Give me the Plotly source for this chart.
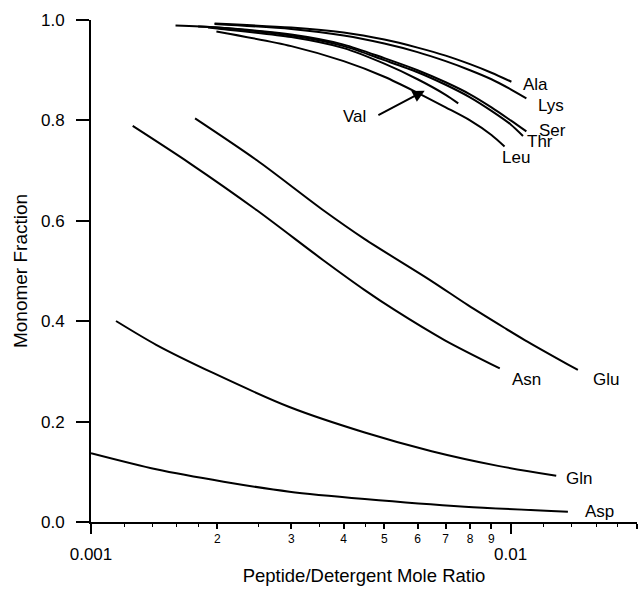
import numpy as np
import plotly.graph_objects as go

# Monomer fraction vs peptide/detergent mole ratio, one curve per residue
ala_x = [0.00197, 0.003, 0.004, 0.005, 0.006, 0.007, 0.008, 0.009, 0.01004]
ala_y = [0.993, 0.985, 0.975, 0.961, 0.945, 0.929, 0.912, 0.895, 0.877]

lys_x = [0.00197, 0.003, 0.004, 0.005, 0.006, 0.007, 0.008, 0.009, 0.010, 0.0109]
lys_y = [0.992, 0.982, 0.969, 0.953, 0.936, 0.918, 0.900, 0.882, 0.862, 0.844]

ser_x = [0.00159, 0.002, 0.003, 0.004, 0.005, 0.006, 0.007, 0.008, 0.009, 0.010, 0.0109]
ser_y = [0.989, 0.985, 0.971, 0.951, 0.924, 0.900, 0.876, 0.852, 0.826, 0.800, 0.778]

thr_x = [0.0018, 0.002, 0.003, 0.004, 0.005, 0.006, 0.007, 0.008, 0.009, 0.010, 0.0107]
thr_y = [0.987, 0.985, 0.969, 0.948, 0.920, 0.896, 0.871, 0.846, 0.819, 0.792, 0.769]

val_x = [0.0019, 0.002, 0.003, 0.004, 0.005, 0.006, 0.007, 0.0075]
val_y = [0.985, 0.983, 0.966, 0.944, 0.913, 0.882, 0.851, 0.834]

leu_x = [0.00199, 0.003, 0.004, 0.005, 0.006, 0.007, 0.008, 0.009, 0.00967]
leu_y = [0.977, 0.948, 0.918, 0.887, 0.855, 0.826, 0.800, 0.771, 0.748]

asn_x = [0.001257, 0.00172, 0.00248, 0.00357, 0.00449, 0.0053, 0.00697, 0.00942]
asn_y = [0.789, 0.7145, 0.6215, 0.522, 0.462, 0.422, 0.362, 0.306]

glu_x = [0.00177, 0.00248, 0.00357, 0.00449, 0.00648, 0.00791, 0.00968, 0.0108, 0.01446]
glu_y = [0.804, 0.721, 0.6215, 0.5635, 0.480, 0.432, 0.3865, 0.3625, 0.3028]

gln_x = [0.001147, 0.00143, 0.00196, 0.00297, 0.00449, 0.00648, 0.00933, 0.01284]
gln_y = [0.4004, 0.353, 0.2964, 0.2291, 0.1783, 0.141, 0.1118, 0.092]

asp_x = [0.001, 0.00143, 0.00207, 0.00297, 0.00449, 0.00777, 0.01369]
asp_y = [0.137, 0.105, 0.0803, 0.0604, 0.0458, 0.0305, 0.0205]

curve_names = ["Ala", "Lys", "Ser", "Thr", "Val", "Leu", "Asn", "Glu", "Gln", "Asp"]
curve_x = [ala_x, lys_x, ser_x, thr_x, val_x, leu_x, asn_x, glu_x, gln_x, asp_x]
curve_y = [ala_y, lys_y, ser_y, thr_y, val_y, leu_y, asn_y, glu_y, gln_y, asp_y]

# Axis ticks
decade_vals = [0.001, 0.01]
decade_text = ["0.001", "0.01"]
digit_vals = [0.002, 0.003, 0.004, 0.005, 0.006, 0.007, 0.008, 0.009, 0.02]
digit_text = ["2", "3", "4", "5", "6", "7", "8", "9", "2"]
minor_vals = [0.0012, 0.0014, 0.0016, 0.0018, 0.0025, 0.0035, 0.0045,
              0.012, 0.014, 0.016, 0.018]
y_ticks = [0.0, 0.2, 0.4, 0.6, 0.8, 1.0]

# Curve label placement (left edge x, centre y)
label_pos = {
    "Ala": (0.0106, 0.872),
    "Lys": (0.01151, 0.829),
    "Ser": (0.01158, 0.779),
    "Thr": (0.0108, 0.757),
    "Leu": (0.00941, 0.726),
    "Val": (0.00395, 0.807),
    "Asn": (0.00995, 0.283),
    "Glu": (0.01556, 0.283),
    "Gln": (0.01337, 0.087),
    "Asp": (0.01484, 0.021),
}
val_arrow_tail = (0.0048, 0.809)
val_arrow_tip = (0.00624, 0.859)

FONT = "Liberation Sans, Arial, Helvetica, sans-serif"
X_RANGE = [np.log10(0.001), np.log10(0.02)]

fig = go.Figure()
for name, xs, ys in zip(curve_names, curve_x, curve_y):
    fig.add_trace(go.Scatter(
        x=xs, y=ys, mode="lines", name=name,
        line=dict(color="black", width=2, shape="spline", smoothing=0.8),
        showlegend=False, hoverinfo="skip",
    ))

# Companion axis carrying the decade ticks and labels
fig.add_trace(go.Scatter(x=[0.001, 0.02], y=[None, None], xaxis="x2",
                         mode="lines", showlegend=False, hoverinfo="skip"))

annotations = []
for name, (lx, ly) in label_pos.items():
    annotations.append(dict(
        x=np.log10(lx), y=ly, xref="x", yref="y", text=name,
        showarrow=False, xanchor="left", yanchor="middle",
        font=dict(family=FONT, size=17, color="black"),
    ))
annotations.append(dict(
    x=np.log10(val_arrow_tip[0]), y=val_arrow_tip[1], xref="x", yref="y",
    ax=np.log10(val_arrow_tail[0]), ay=val_arrow_tail[1], axref="x", ayref="y",
    text="", showarrow=True, arrowhead=2, arrowsize=1.2, arrowwidth=2,
    arrowcolor="black", standoff=0, startstandoff=0,
))

fig.update_layout(
    width=640, height=589, autosize=False,
    margin=dict(l=91, r=3, t=20, b=67, pad=0),
    paper_bgcolor="white", plot_bgcolor="white",
    font=dict(family=FONT, color="black", size=17),
    showlegend=False,
    annotations=annotations,
    xaxis=dict(
        type="log", range=X_RANGE, tickmode="array",
        tickvals=digit_vals, ticktext=digit_text,
        ticks="outside", ticklen=5, tickwidth=1.5, tickcolor="black",
        tickfont=dict(family=FONT, size=12, color="black"),
        showline=True, linewidth=2, linecolor="black",
        showgrid=False, zeroline=False, automargin=False,
        minor=dict(tickmode="array", tickvals=minor_vals, ticks="outside",
                   ticklen=3, tickwidth=1.2, tickcolor="black", showgrid=False),
    ),
    xaxis2=dict(
        type="log", range=X_RANGE, overlaying="x", anchor="y", side="bottom",
        tickmode="array", tickvals=decade_vals, ticktext=decade_text,
        ticks="outside", ticklen=11, tickwidth=1.5, tickcolor="black",
        tickfont=dict(family=FONT, size=17, color="black"),
        ticklabelstandoff=6,
        showline=False, showgrid=False, zeroline=False, automargin=False,
        title=dict(text="Peptide/Detergent Mole Ratio",
                   font=dict(family=FONT, size=18.5, color="black"), standoff=5),
    ),
    yaxis=dict(
        range=[0, 1], tickmode="array", tickvals=y_ticks, tickformat=".1f",
        ticks="outside", ticklen=13, tickwidth=1.5, tickcolor="black",
        tickfont=dict(family=FONT, size=17, color="black"),
        ticklabelstandoff=8,
        showline=True, linewidth=2, linecolor="black",
        showgrid=False, zeroline=False, automargin=False,
        title=dict(text="Monomer Fraction",
                   font=dict(family=FONT, size=19, color="black"), standoff=8),
    ),
)

fig.write_html("out.html")
